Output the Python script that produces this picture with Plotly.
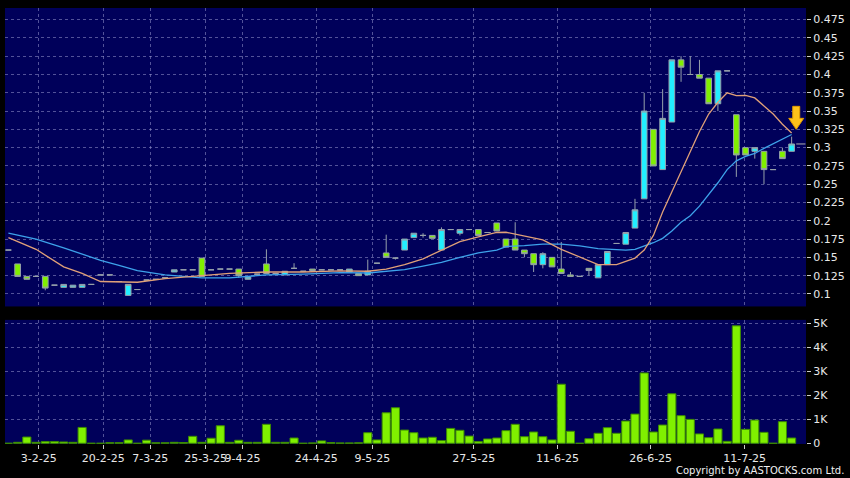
import plotly.graph_objects as go

# ---------------- data ----------------
idx = list(range(86))

open_ = [0.160, 0.141, 0.124, 0.124, 0.124, 0.112, 0.109, 0.109, 0.109, 0.113,
         0.126, 0.126, 0.117, 0.098, 0.106, 0.119, 0.120, 0.122, 0.130, 0.133,
         0.133, 0.149, 0.133, 0.134, 0.134, 0.134, 0.120, 0.127, 0.141, 0.128,
         0.126, 0.135, 0.131, 0.134, 0.133, 0.133, 0.133, 0.130, 0.128, 0.126,
         0.142, 0.156, 0.149, 0.160, 0.177, 0.180, 0.180, 0.160, 0.188, 0.183,
         0.188, 0.188, 0.184, 0.197, 0.175, 0.175, 0.160, 0.155, 0.140, 0.150,
         0.134, 0.126, 0.124, 0.135, 0.122, 0.140, 0.169, 0.168, 0.190, 0.230,
         0.325, 0.270, 0.335, 0.420, 0.400, 0.400, 0.395, 0.360, 0.405, 0.345,
         0.300, 0.295, 0.295, 0.270, 0.295, 0.295]
high_ = [0.160, 0.141, 0.124, 0.124, 0.124, 0.112, 0.113, 0.112, 0.113, 0.113,
         0.126, 0.126, 0.117, 0.113, 0.106, 0.119, 0.120, 0.122, 0.133, 0.133,
         0.133, 0.149, 0.133, 0.134, 0.134, 0.134, 0.123, 0.127, 0.161, 0.128,
         0.131, 0.142, 0.131, 0.134, 0.134, 0.133, 0.133, 0.134, 0.128, 0.147,
         0.142, 0.181, 0.149, 0.175, 0.183, 0.183, 0.180, 0.191, 0.188, 0.188,
         0.188, 0.188, 0.184, 0.197, 0.175, 0.198, 0.160, 0.155, 0.157, 0.150,
         0.171, 0.130, 0.124, 0.135, 0.140, 0.158, 0.169, 0.184, 0.230, 0.375,
         0.325, 0.380, 0.420, 0.425, 0.425, 0.420, 0.395, 0.405, 0.405, 0.345,
         0.300, 0.300, 0.295, 0.270, 0.300, 0.315]
low_ = [0.160, 0.124, 0.120, 0.124, 0.105, 0.112, 0.109, 0.109, 0.109, 0.113,
        0.126, 0.126, 0.117, 0.098, 0.106, 0.119, 0.120, 0.122, 0.130, 0.133,
        0.133, 0.124, 0.133, 0.134, 0.134, 0.122, 0.120, 0.127, 0.128, 0.128,
        0.126, 0.135, 0.131, 0.132, 0.133, 0.133, 0.133, 0.130, 0.125, 0.126,
        0.142, 0.150, 0.147, 0.160, 0.177, 0.177, 0.176, 0.160, 0.188, 0.180,
        0.188, 0.180, 0.184, 0.186, 0.164, 0.160, 0.150, 0.130, 0.135, 0.137,
        0.128, 0.124, 0.124, 0.125, 0.122, 0.140, 0.169, 0.168, 0.190, 0.230,
        0.275, 0.270, 0.335, 0.390, 0.400, 0.395, 0.360, 0.350, 0.405, 0.260,
        0.290, 0.285, 0.250, 0.270, 0.285, 0.295]
close_ = [0.160, 0.124, 0.120, 0.124, 0.108, 0.112, 0.113, 0.112, 0.113, 0.113,
          0.126, 0.126, 0.117, 0.113, 0.106, 0.119, 0.120, 0.122, 0.133, 0.133,
          0.133, 0.124, 0.133, 0.134, 0.134, 0.125, 0.123, 0.127, 0.128, 0.128,
          0.131, 0.135, 0.131, 0.132, 0.133, 0.133, 0.133, 0.134, 0.125, 0.131,
          0.142, 0.150, 0.149, 0.175, 0.183, 0.180, 0.176, 0.188, 0.188, 0.188,
          0.188, 0.180, 0.184, 0.186, 0.164, 0.160, 0.155, 0.140, 0.155, 0.137,
          0.128, 0.124, 0.124, 0.132, 0.140, 0.158, 0.169, 0.184, 0.215, 0.350,
          0.275, 0.340, 0.420, 0.410, 0.400, 0.395, 0.360, 0.405, 0.405, 0.290,
          0.290, 0.300, 0.270, 0.270, 0.285, 0.305]
volume = [0, 40, 260, 40, 70, 70, 55, 40, 660, 0,
          0, 25, 25, 140, 0, 130, 20, 20, 40, 30,
          290, 40, 210, 730, 40, 125, 40, 40, 790, 40,
          40, 220, 0, 15, 100, 30, 15, 15, 20, 440,
          140, 1270, 1480, 550, 440, 220, 250, 110, 620, 540,
          300, 70, 180, 220, 525, 790, 275, 470, 275, 140,
          2460, 500, 0, 190, 415, 650, 415, 925, 1215, 2930,
          470, 760, 2060, 1150, 995, 390, 235, 595, 80, 4890,
          580, 965, 455, 0, 900, 220]

# moving-average lines, read at selected candle positions
ma_idx = [0, 3, 6, 8, 10, 12, 14, 17, 21, 24, 28, 32, 36, 39, 41, 43, 45, 47, 49, 51,
          53, 54, 56, 58, 60, 62, 64, 66, 67, 68, 69, 70, 71, 72, 73, 74, 75, 76, 77, 78,
          79, 80, 81, 82, 83, 84, 85]
ma_short = [0.177, 0.161, 0.137, 0.128, 0.117, 0.116, 0.116, 0.121, 0.125, 0.128,
            0.130, 0.130, 0.1315, 0.131, 0.134, 0.140, 0.148, 0.160, 0.1716, 0.178,
            0.184, 0.1843, 0.1795, 0.174, 0.161, 0.151, 0.140, 0.140, 0.1444, 0.149,
            0.160, 0.180, 0.212, 0.240, 0.268, 0.295, 0.322, 0.346, 0.362, 0.375,
            0.371, 0.3715, 0.368, 0.357, 0.346, 0.332, 0.320]
ma_long = [0.183, 0.175, 0.163, 0.154, 0.146, 0.139, 0.132, 0.126, 0.122, 0.122,
           0.126, 0.127, 0.129, 0.1286, 0.131, 0.1331, 0.138, 0.143, 0.150, 0.156,
           0.160, 0.1648, 0.166, 0.168, 0.168, 0.1657, 0.162, 0.160, 0.1598, 0.161,
           0.165, 0.170, 0.176, 0.186, 0.198, 0.207, 0.220, 0.236, 0.252, 0.270,
           0.282, 0.288, 0.292, 0.299, 0.305, 0.311, 0.318]

tick_pos = [3.3, 10.3, 15.4, 21.4, 25.4, 33.4, 39.5, 50.5, 59.6, 69.7, 79.9]
tick_labels = ["3-2-25", "20-2-25", "7-3-25", "25-3-25", "9-4-25", "24-4-25",
               "9-5-25", "27-5-25", "11-6-25", "26-6-25", "11-7-25"]

price_ticks = [0.1, 0.125, 0.15, 0.175, 0.2, 0.225, 0.25, 0.275, 0.3, 0.325,
               0.35, 0.375, 0.4, 0.425, 0.45, 0.475]
price_tick_text = ["0.1", "0.125", "0.15", "0.175", "0.2", "0.225", "0.25", "0.275",
                   "0.3", "0.325", "0.35", "0.375", "0.4", "0.425", "0.45", "0.475"]
vol_ticks = [0, 1000, 2000, 3000, 4000, 5000]
vol_tick_text = ["0", "1K", "2K", "3K", "4K", "5K"]

# ---------------- figure ----------------
FONT = "DejaVu Sans"
BG_PLOT = "#00005a"
GRID = "rgba(150,150,205,0.55)"
CYAN = "#22eeff"
LIME = "#80f000"
EDGE = "rgb(150,160,170)"

fig = go.Figure()

fig.add_trace(go.Candlestick(
    x=idx, open=open_, high=high_, low=low_, close=close_,
    increasing=dict(fillcolor=CYAN, line=dict(color=EDGE, width=1)),
    decreasing=dict(fillcolor=LIME, line=dict(color=EDGE, width=1)),
    whiskerwidth=0, xaxis="x", yaxis="y", showlegend=False, hoverinfo="skip"))

fig.add_trace(go.Scatter(x=ma_idx, y=ma_long, mode="lines",
                         line=dict(color="#3da2ea", width=1.3),
                         xaxis="x", yaxis="y", showlegend=False, hoverinfo="skip"))
fig.add_trace(go.Scatter(x=ma_idx, y=ma_short, mode="lines",
                         line=dict(color="#e0a078", width=1.3),
                         xaxis="x", yaxis="y", showlegend=False, hoverinfo="skip"))

# last-price marker next to the axis
last = len(idx) - 1
fig.add_trace(go.Scatter(x=[last + 0.5, last + 1.5], y=[close_[-1], close_[-1]],
                         mode="lines", line=dict(color="#b0b0b0", width=1),
                         xaxis="x", yaxis="y", showlegend=False, hoverinfo="skip"))

fig.add_trace(go.Bar(x=idx, y=volume, marker=dict(color=LIME, line=dict(color="#3c8c00", width=1)),
                     xaxis="x2", yaxis="y2", showlegend=False, hoverinfo="skip"))

# yellow down arrow pointing at the MA convergence
fig.add_shape(type="path", xref="x", yref="y", xsizemode="pixel", ysizemode="pixel",
              xanchor=ma_idx[-1] + 0.5, yanchor=ma_long[-1] + 0.007,
              path="M0,0 L-7.5,11 L-3.5,11 L-3.5,23 L3.5,23 L3.5,11 L7.5,11 Z",
              fillcolor="#ffc21a", line=dict(color="#e09a00", width=1), layer="above")

axis_common = dict(showline=False, zeroline=False, gridcolor=GRID, griddash="3px,3px",
                   gridwidth=1, tickfont=dict(family=FONT, size=11, color="#e8e8e8"))

xr = [-0.37, 86.56]
fig.update_layout(
    width=850, height=478,
    margin=dict(l=5, r=42, t=5, b=34),
    paper_bgcolor="#000000", plot_bgcolor=BG_PLOT,
    bargap=0.12, boxgap=0.12,
    xaxis=dict(domain=[0, 1], anchor="y", range=xr, tickvals=tick_pos, ticktext=tick_labels,
               showticklabels=False, ticks="", rangeslider=dict(visible=False),
               **axis_common),
    yaxis=dict(domain=[0.3155, 1], anchor="x", side="right", range=[0.0829, 0.4909],
               tickvals=price_ticks, ticktext=price_tick_text, ticks="outside", ticklen=4,
               tickcolor="#cccccc", **axis_common),
    xaxis2=dict(domain=[0, 1], anchor="y2", range=xr, tickvals=tick_pos, ticktext=tick_labels,
                ticks="outside", ticklen=4, tickcolor="#cccccc", matches="x", tickangle=0,
                **axis_common),
    yaxis2=dict(domain=[0, 0.2847], anchor="x2", side="right", range=[-30, 5140],
                tickvals=vol_ticks, ticktext=vol_tick_text, ticks="outside", ticklen=4,
                tickcolor="#cccccc", **axis_common),
    annotations=[dict(text="Copyright by AASTOCKS.com Ltd.", xref="paper", yref="paper",
                      x=1.0498, y=-0.0615, xanchor="right", yanchor="middle", showarrow=False,
                      font=dict(family=FONT, size=10, color="#f0f0f0"))],
)

fig.write_html("out.html", config={"displayModeBar": False},
               post_script="document.body.style.margin='0';document.body.style.overflow='hidden';")
